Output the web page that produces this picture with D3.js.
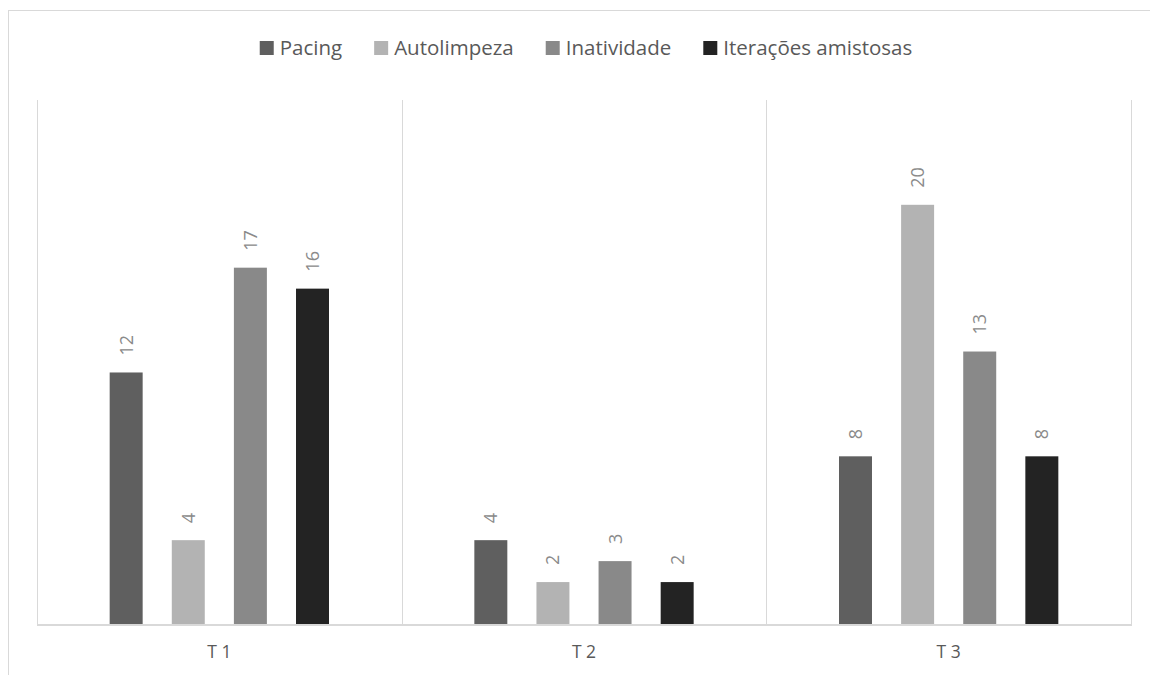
<!DOCTYPE html>
<html>
<head>
<meta charset="utf-8">
<script src="https://cdn.jsdelivr.net/npm/d3@7"></script>
<style>
  body { margin: 0; background: #fff; }
  svg { display: block; }
  text { font-family: "Open Sans", "Liberation Sans", sans-serif; }
</style>
</head>
<body>
<svg id="chart" width="1150" height="675"></svg>
<script>
// Observation periods and behaviour counts per period
const periods = ["T 1", "T 2", "T 3"];
const behaviours = ["Pacing", "Autolimpeza", "Inatividade", "Iterações amistosas"];
const pacing = [12, 4, 8];
const autolimpeza = [4, 2, 20];
const inatividade = [17, 3, 13];
const iteracoes = [16, 2, 8];
const colors = ["#5f5f5f", "#b3b3b3", "#898989", "#232323"];

const seriesValues = [pacing, autolimpeza, inatividade, iteracoes];
const rows = periods.map((p, i) => ({
  period: p,
  values: behaviours.map((b, j) => ({ key: b, value: seriesValues[j][i] }))
}));

const svg = d3.select("#chart");
const W = 1150, H = 675;
const plot = { left: 37, right: 1131, top: 100, bottom: 624 };
const gridColor = "#d9d9d9";

// Outer chart frame
svg.append("rect")
  .attr("x", 8.5).attr("y", 10.5)
  .attr("width", W + 20).attr("height", H + 20)
  .attr("fill", "none").attr("stroke", gridColor).attr("stroke-width", 1);

const x0 = d3.scaleBand().domain(periods).range([plot.left, plot.right]).padding(0);
const x1 = d3.scaleBand().domain(behaviours).range([0, x0.bandwidth()])
  .paddingInner(0.469).paddingOuter(1.17);
const y = d3.scaleLinear().domain([0, 25]).range([plot.bottom, plot.top]);

// Category separators (left edge of each band plus the right edge)
const edges = periods.map(p => x0(p)).concat([plot.right]);
svg.append("g").selectAll("line").data(edges).join("line")
  .attr("x1", d => Math.round(d) + 0.5).attr("x2", d => Math.round(d) + 0.5)
  .attr("y1", plot.top).attr("y2", plot.bottom + 1)
  .attr("stroke", gridColor).attr("stroke-width", 1);

// Bars
const groups = svg.append("g").selectAll("g").data(rows).join("g")
  .attr("transform", d => `translate(${x0(d.period)},0)`);

groups.selectAll("rect").data(d => d.values).join("rect")
  .attr("x", d => x1(d.key))
  .attr("width", x1.bandwidth())
  .attr("y", d => y(d.value))
  .attr("height", d => y(0) - y(d.value))
  .attr("fill", (d, i) => colors[i]);

// Rotated value labels above bars
groups.selectAll("text").data(d => d.values).join("text")
  .attr("transform", d => `translate(${x1(d.key) + x1.bandwidth() / 2 + 6.5},${y(d.value) - 17}) rotate(-90)`)
  .attr("text-anchor", "start")
  .attr("font-size", 18)
  .attr("fill", "#8a8a8a")
  .text(d => d.value);

// Category axis
const xAxis = svg.append("g")
  .attr("transform", `translate(0,${plot.bottom + 1})`)
  .call(d3.axisBottom(x0).tickSize(0).tickPadding(0));
xAxis.select(".domain").attr("stroke", gridColor).attr("stroke-width", 2)
  .attr("d", `M${plot.left},0H${plot.right + 1}`);
xAxis.selectAll("text")
  .attr("y", 33).attr("dy", 0)
  .attr("font-size", 17.5)
  .attr("font-family", "\"Open Sans\", sans-serif")
  .attr("fill", "#595959");

// Legend
const legend = svg.append("g");
let cx = 0;
behaviours.forEach((b, i) => {
  const item = legend.append("g").attr("transform", `translate(${cx},0)`);
  item.append("rect").attr("x", 0).attr("y", 41).attr("width", 14).attr("height", 14)
    .attr("fill", colors[i]);
  const t = item.append("text").attr("x", 20).attr("y", 54.5)
    .attr("font-size", 20.5).attr("fill", "#595959").text(b);
  cx += 20 + t.node().getComputedTextLength() + 32;
});
const legendWidth = cx - 32;
legend.attr("transform", `translate(${586 - legendWidth / 2},0)`);
</script>
</body>
</html>
